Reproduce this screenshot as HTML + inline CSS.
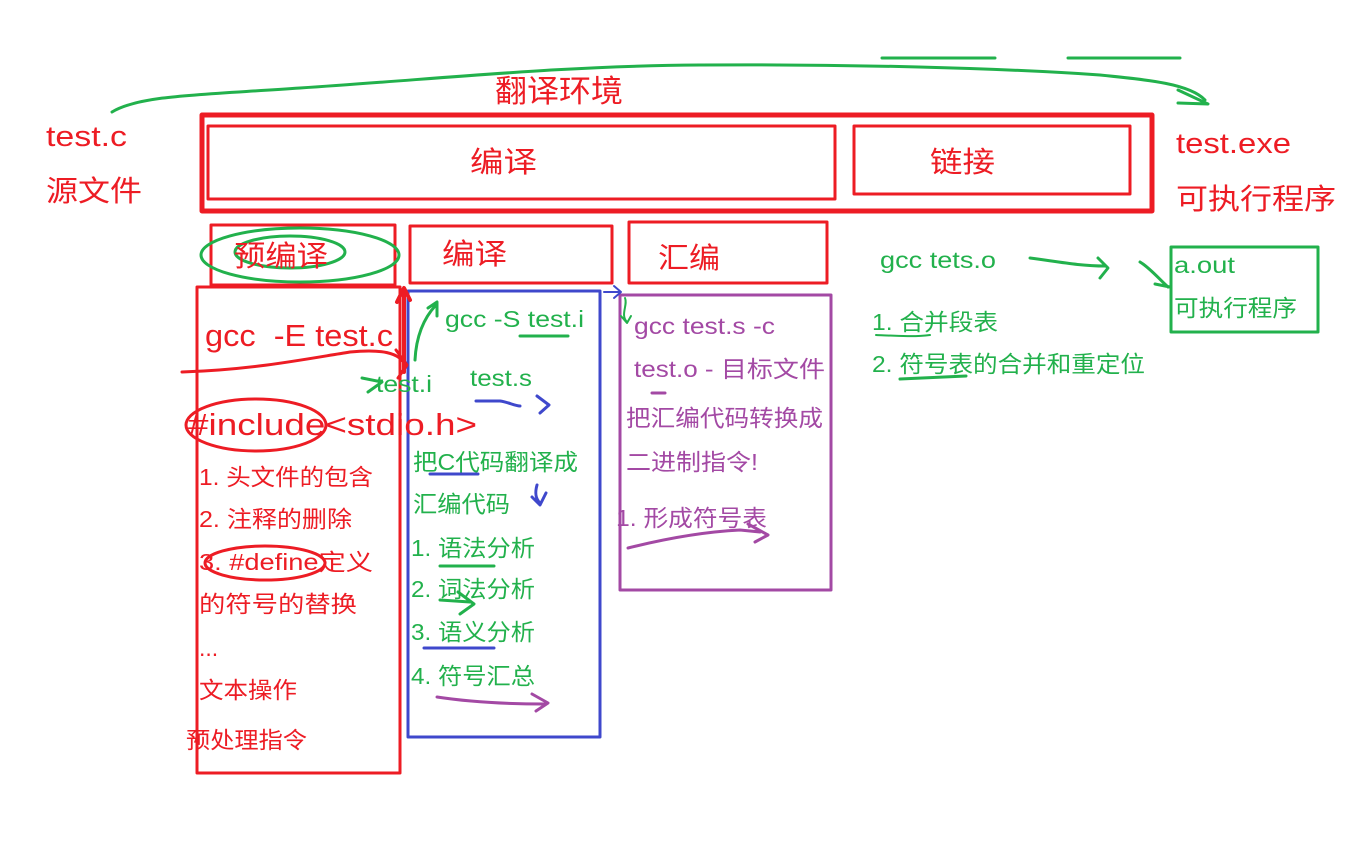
<!DOCTYPE html>
<html><head><meta charset="utf-8"><style>
html,body{margin:0;padding:0;background:#fff;}
svg{display:block}
text{font-family:"Liberation Sans","Noto Sans CJK SC",sans-serif;}
</style></head><body>
<svg width="1358" height="853" viewBox="0 0 1358 853" xmlns="http://www.w3.org/2000/svg">
<g fill="none" stroke-linecap="round" stroke-linejoin="round">
<path d="M112,112 C140,95 200,95 300,88 C450,78 560,66 700,65 C850,64 1000,68 1100,75 C1150,80 1190,84 1205,100" stroke="#22b14c" stroke-width="3"/>
<path d="M1178,90 L1208,104 L1178,103" stroke="#22b14c" stroke-width="3"/>
<path d="M882,58 L995,58 M1068,58 L1180,58" stroke="#22b14c" stroke-width="3"/>
<rect x="202" y="115" width="950" height="96" stroke="#ed1c24" stroke-width="5"/>
<rect x="208" y="126" width="627" height="73" stroke="#ed1c24" stroke-width="3"/>
<rect x="854" y="126" width="276" height="68" stroke="#ed1c24" stroke-width="3"/>
<rect x="211" y="225" width="184" height="60" stroke="#ed1c24" stroke-width="3"/>
<rect x="410" y="226" width="202" height="57" stroke="#ed1c24" stroke-width="3"/>
<rect x="629" y="222" width="198" height="61" stroke="#ed1c24" stroke-width="3"/>
<rect x="197" y="287" width="203" height="486" stroke="#ed1c24" stroke-width="3"/>
<rect x="408" y="291" width="192" height="446" stroke="#3f48cc" stroke-width="3"/>
<rect x="620" y="295" width="211" height="295" stroke="#a349a4" stroke-width="3"/>
<rect x="1171" y="247" width="147" height="85" stroke="#22b14c" stroke-width="3"/>
<ellipse cx="300" cy="255" rx="99" ry="27" stroke="#22b14c" stroke-width="3"/>
<ellipse cx="290" cy="252" rx="55" ry="16" stroke="#22b14c" stroke-width="3"/>
<ellipse cx="256" cy="425" rx="70" ry="26" stroke="#ed1c24" stroke-width="3"/>
<ellipse cx="265" cy="563" rx="60" ry="17" stroke="#ed1c24" stroke-width="3"/>
<path d="M182,372 C250,370 300,360 350,352 C380,349 400,352 406,366" stroke="#ed1c24" stroke-width="3"/>
<path d="M396,350 L407,365 L398,378" stroke="#ed1c24" stroke-width="3"/>
<path d="M404,372 L404,290 M397,302 L404,288 L410,300" stroke="#ed1c24" stroke-width="4"/>
<path d="M415,360 C416,340 422,320 436,305 M428,308 L437,302 L437,316" stroke="#22b14c" stroke-width="3"/>
<path d="M362,378 L382,382 L368,392" stroke="#22b14c" stroke-width="3"/>
<path d="M520,336 L568,336" stroke="#22b14c" stroke-width="3"/>
<path d="M440,566 L494,566" stroke="#22b14c" stroke-width="3"/>
<path d="M440,600 L470,602 M458,592 L474,604 L460,614" stroke="#22b14c" stroke-width="3"/>
<path d="M625,298 C628,305 620,315 627,322 M621,316 L627,323 L631,316" stroke="#22b14c" stroke-width="2"/>
<path d="M1030,258 C1060,262 1080,266 1105,266 M1098,258 L1108,268 L1100,278" stroke="#22b14c" stroke-width="3"/>
<path d="M1140,262 C1150,268 1160,280 1168,287 M1155,284 L1170,287" stroke="#22b14c" stroke-width="3"/>
<path d="M876,335 C900,336 915,337 930,335" stroke="#22b14c" stroke-width="2"/>
<path d="M900,379 L966,376" stroke="#22b14c" stroke-width="3"/>
<path d="M476,401 L500,401 C508,402 515,406 520,406 M537,396 L549,405 L540,413" stroke="#3f48cc" stroke-width="3"/>
<path d="M537,485 C535,492 535,498 540,503 M532,497 L540,505 L546,493" stroke="#3f48cc" stroke-width="3"/>
<path d="M430,474 L478,474" stroke="#3f48cc" stroke-width="3"/>
<path d="M424,648 L494,648" stroke="#3f48cc" stroke-width="3"/>
<path d="M604,292 L620,292 M614,286 L621,292 L614,298" stroke="#3f48cc" stroke-width="2"/>
<path d="M437,697 C470,702 510,704 545,704 M532,694 L548,703 L536,711" stroke="#a349a4" stroke-width="3"/>
<path d="M628,548 C660,540 700,532 740,530 L760,532 M748,524 L768,535 L755,542" stroke="#a349a4" stroke-width="3"/>
<path d="M652,393 L665,393" stroke="#a349a4" stroke-width="3"/>
</g>
<g font-size="29" fill="#ed1c24" lengthAdjust="spacingAndGlyphs">
<text x="46" y="146" textLength="81" lengthAdjust="spacingAndGlyphs">test.c</text>
<text x="46" y="201" textLength="96" lengthAdjust="spacingAndGlyphs">源文件</text>
<text x="495" y="102" font-size="31" textLength="128" lengthAdjust="spacingAndGlyphs">翻译环境</text>
<text x="470" y="172" textLength="67" lengthAdjust="spacingAndGlyphs">编译</text>
<text x="930" y="172" textLength="65" lengthAdjust="spacingAndGlyphs">链接</text>
<text x="1176" y="153" textLength="115" lengthAdjust="spacingAndGlyphs">test.exe</text>
<text x="1176" y="209" textLength="160" lengthAdjust="spacingAndGlyphs">可执行程序</text>
<text x="234" y="266" textLength="94" lengthAdjust="spacingAndGlyphs">预编译</text>
<text x="442" y="264" textLength="65" lengthAdjust="spacingAndGlyphs">编译</text>
<text x="658" y="268" textLength="62" lengthAdjust="spacingAndGlyphs">汇编</text>
<text x="205" y="346" font-size="31" textLength="188" lengthAdjust="spacingAndGlyphs">gcc&#160;&#160;-E test.c</text>
<text x="188" y="435" font-size="31" textLength="289" lengthAdjust="spacingAndGlyphs">#include&lt;stdio.h&gt;</text>
</g>
<g font-size="23" fill="#ed1c24">
<text x="199" y="485" textLength="174" lengthAdjust="spacingAndGlyphs">1. 头文件的包含</text>
<text x="199" y="527" textLength="153" lengthAdjust="spacingAndGlyphs">2. 注释的删除</text>
<text x="199" y="570" textLength="174" lengthAdjust="spacingAndGlyphs">3. #define定义</text>
<text x="199" y="612" textLength="158" lengthAdjust="spacingAndGlyphs">的符号的替换</text>
<text x="199" y="656">...</text>
<text x="199" y="698" textLength="98" lengthAdjust="spacingAndGlyphs">文本操作</text>
<text x="186" y="748" textLength="121" lengthAdjust="spacingAndGlyphs">预处理指令</text>
</g>
<g font-size="23" fill="#22b14c">
<text x="445" y="327" textLength="139" lengthAdjust="spacingAndGlyphs">gcc -S test.i</text>
<text x="376" y="392" textLength="56" lengthAdjust="spacingAndGlyphs">test.i</text>
<text x="470" y="386" textLength="62" lengthAdjust="spacingAndGlyphs">test.s</text>
<text x="413" y="470" textLength="165" lengthAdjust="spacingAndGlyphs">把C代码翻译成</text>
<text x="413" y="512" textLength="97" lengthAdjust="spacingAndGlyphs">汇编代码</text>
<text x="411" y="556" textLength="124" lengthAdjust="spacingAndGlyphs">1. 语法分析</text>
<text x="411" y="597" textLength="124" lengthAdjust="spacingAndGlyphs">2. 词法分析</text>
<text x="411" y="640" textLength="124" lengthAdjust="spacingAndGlyphs">3. 语义分析</text>
<text x="411" y="684" textLength="124" lengthAdjust="spacingAndGlyphs">4. 符号汇总</text>
<text x="880" y="268" textLength="116" lengthAdjust="spacingAndGlyphs">gcc tets.o</text>
<text x="1174" y="273" textLength="61" lengthAdjust="spacingAndGlyphs">a.out</text>
<text x="1174" y="316" textLength="123" lengthAdjust="spacingAndGlyphs">可执行程序</text>
<text x="872" y="330" textLength="126" lengthAdjust="spacingAndGlyphs">1. 合并段表</text>
<text x="872" y="372" textLength="273" lengthAdjust="spacingAndGlyphs">2. 符号表的合并和重定位</text>
</g>
<g font-size="23" fill="#a349a4">
<text x="634" y="334" textLength="141" lengthAdjust="spacingAndGlyphs">gcc test.s -c</text>
<text x="634" y="377" textLength="191" lengthAdjust="spacingAndGlyphs">test.o - 目标文件</text>
<text x="626" y="426" textLength="197" lengthAdjust="spacingAndGlyphs">把汇编代码转换成</text>
<text x="626" y="470" textLength="132" lengthAdjust="spacingAndGlyphs">二进制指令!</text>
<text x="616" y="526" textLength="151" lengthAdjust="spacingAndGlyphs">1. 形成符号表</text>
</g>
</svg>
</body></html>
